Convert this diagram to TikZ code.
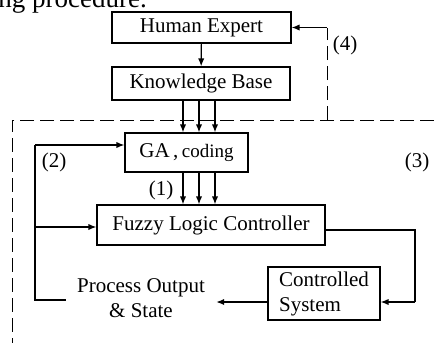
\documentclass[tikz,border=0pt]{standalone}
\usepackage{fontspec}
\setmainfont{Liberation Serif}
\usetikzlibrary{arrows.meta}

\begin{document}
\begin{tikzpicture}[x=0.5pt,y=-0.5pt]
\tikzset{
  block/.style={draw,line width=0.6pt,inner sep=0pt,font=\fontsize{10.5}{12.5}\selectfont},
  flow/.style={-{Latex[length=1.4mm,width=1.1mm]},line width=0.6pt},
  wire/.style={line width=0.6pt},
  frame/.style={line width=0.5pt,dash pattern=on 7pt off 3pt},
  tag/.style={font=\fontsize{10.5}{12.5}\selectfont,inner sep=0pt}
}
\useasboundingbox (0,0) rectangle (434,343);
% end of the running text above the figure
\begin{scope}
\clip (0,0) rectangle (434,343);
\node[anchor=base west,inner sep=0pt,font=\fontsize{13.5}{15}\selectfont] (n_caption) at (-2,7) {ng procedure.};
\end{scope}
\node[block,minimum width=89.5pt,minimum height=15.5pt] (n_expert) at (201.5,27.5) {Human Expert};
\node[block,minimum width=89pt,minimum height=16.5pt] (n_kb) at (201,83.5) {Knowledge Base};
\node[block,minimum width=61.5pt,minimum height=19.5pt] (n_ga) at (186.5,152.5) {GA\,,\,{\fontsize{9.5}{11}\selectfont coding}};
\node[block,minimum width=114pt,minimum height=20pt] (n_flc) at (211,225) {Fuzzy Logic Controller};
\node[block,minimum width=56pt,minimum height=26.5pt,align=left] (n_plant) at (324,293.5) {Controlled\\System};
\node[tag,inner xsep=5.5pt,align=center] (n_out) at (141,298) {Process Output\\\& State};
\node[tag] (n_l1) at (161,190) {(1)};
\node[tag] (n_l2) at (54,162) {(2)};
\node[tag] (n_l3) at (417,162) {(3)};
\node[tag] (n_l4) at (345,45) {(4)};
\coordinate (c_up) at (327,27.5);
\coordinate (c_join) at (327,120);
\coordinate (c_right) at (415,230);
\coordinate (c_low) at (415,302);
\coordinate (c_ga) at (35,145);
\coordinate (c_flc) at (35,227);
\coordinate (c_loop) at (35,300);
% dashed boundary of the tuning loop
\draw[frame] (434,120) -- (12,120) -- (12,343);
\draw[frame] (c_join) -- (c_up);
\draw[flow] (c_up) -- (n_expert.east);
\draw[flow] (n_expert) -- (n_kb);
\foreach \dx in {183,199,215} {
  \draw[flow] (n_kb.south -| \dx,0) -- (n_ga.north -| \dx,0);
  \draw[flow] (n_ga.south -| \dx,0) -- (n_flc.north -| \dx,0);
}
\draw[wire] (n_flc.east |- c_right) -- (c_right) -- (c_low);
\draw[flow] (c_low) -- (n_plant.east |- c_low);
\draw[flow] (n_plant.west |- c_low) -- (n_out.east |- c_low);
\draw[wire] (n_out.west |- c_loop) -- (c_loop) -- (c_ga);
\draw[flow] (c_ga) -- (n_ga.west |- c_ga);
\draw[flow] (c_flc) -- (n_flc.west |- c_flc);
\end{tikzpicture}
\end{document}
